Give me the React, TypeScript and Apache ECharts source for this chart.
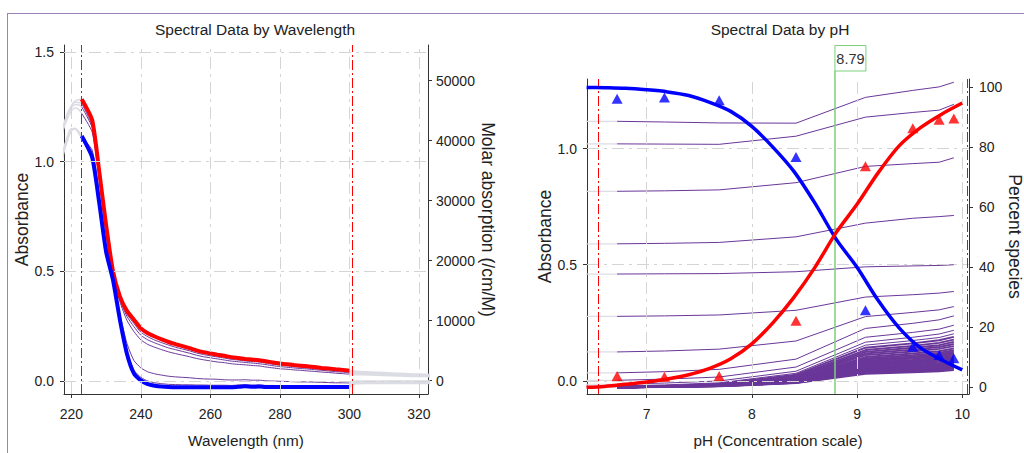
import React, { useEffect, useRef } from "react";
import * as echarts from "echarts";

// ---------------- data ----------------
const wavelengths = [223, 226, 228, 230, 232, 234, 236, 238, 240, 242, 244, 246, 248, 250, 252, 254, 256, 258, 260, 262, 264, 266, 268, 270, 272, 274, 276, 278, 280, 282, 284, 286, 288, 290, 292, 294, 296, 298, 300];
const measuredPH = [6.72, 7.17, 7.69, 8.42, 9.08, 9.53, 9.78, 9.92];

const absPH672 = [1.117, 1.02, 0.816, 0.59, 0.46, 0.278, 0.125, 0.035, 0.003, -0.014, -0.021, -0.025, -0.027, -0.028, -0.028, -0.028, -0.028, -0.028, -0.028, -0.028, -0.028, -0.028, -0.026, -0.024, -0.026, -0.025, -0.027, -0.027, -0.027, -0.027, -0.027, -0.027, -0.027, -0.027, -0.027, -0.027, -0.027, -0.027, -0.027];
const absPH717 = [1.114, 1.019, 0.818, 0.592, 0.461, 0.28, 0.129, 0.04, 0.008, -0.009, -0.017, -0.021, -0.023, -0.024, -0.024, -0.024, -0.025, -0.025, -0.025, -0.025, -0.025, -0.025, -0.023, -0.022, -0.024, -0.023, -0.025, -0.025, -0.025, -0.025, -0.025, -0.025, -0.025, -0.025, -0.025, -0.025, -0.025, -0.025, -0.026];
const absPH769 = [1.11, 1.018, 0.822, 0.596, 0.462, 0.284, 0.137, 0.05, 0.017, 0.0, -0.008, -0.012, -0.015, -0.016, -0.017, -0.017, -0.018, -0.018, -0.019, -0.019, -0.019, -0.02, -0.018, -0.017, -0.019, -0.018, -0.02, -0.02, -0.021, -0.021, -0.021, -0.021, -0.021, -0.022, -0.022, -0.022, -0.022, -0.022, -0.023];
const absPH842 = [1.109, 1.053, 0.853, 0.62, 0.47, 0.304, 0.172, 0.094, 0.06, 0.042, 0.033, 0.027, 0.022, 0.019, 0.017, 0.015, 0.012, 0.01, 0.009, 0.008, 0.006, 0.005, 0.005, 0.006, 0.004, 0.004, 0.001, 0.0, -0.001, -0.002, -0.003, -0.004, -0.004, -0.005, -0.006, -0.007, -0.008, -0.008, -0.009];
const absPH908 = [1.22, 1.135, 0.923, 0.679, 0.491, 0.361, 0.277, 0.226, 0.188, 0.167, 0.154, 0.143, 0.133, 0.125, 0.118, 0.111, 0.103, 0.097, 0.092, 0.087, 0.084, 0.079, 0.076, 0.074, 0.071, 0.069, 0.064, 0.06, 0.056, 0.054, 0.051, 0.049, 0.046, 0.044, 0.041, 0.039, 0.036, 0.034, 0.031];
const absPH953 = [1.25, 1.155, 0.935, 0.7, 0.495, 0.371, 0.295, 0.248, 0.209, 0.188, 0.174, 0.162, 0.151, 0.143, 0.135, 0.127, 0.118, 0.111, 0.106, 0.101, 0.096, 0.091, 0.088, 0.085, 0.082, 0.079, 0.075, 0.07, 0.066, 0.063, 0.06, 0.057, 0.055, 0.052, 0.049, 0.046, 0.043, 0.041, 0.037];
const absPH978 = [1.265, 1.165, 0.941, 0.707, 0.497, 0.378, 0.306, 0.263, 0.223, 0.202, 0.187, 0.175, 0.164, 0.154, 0.146, 0.138, 0.128, 0.121, 0.115, 0.11, 0.105, 0.099, 0.096, 0.092, 0.089, 0.087, 0.082, 0.077, 0.073, 0.07, 0.066, 0.063, 0.06, 0.058, 0.054, 0.051, 0.048, 0.046, 0.042];
const absPH992 = [1.285, 1.19, 0.96, 0.712, 0.5, 0.385, 0.32, 0.28, 0.24, 0.218, 0.203, 0.19, 0.178, 0.168, 0.159, 0.15, 0.14, 0.132, 0.126, 0.12, 0.115, 0.109, 0.105, 0.101, 0.098, 0.095, 0.09, 0.085, 0.08, 0.077, 0.073, 0.07, 0.067, 0.064, 0.06, 0.057, 0.054, 0.051, 0.047];
const spectra = [absPH672, absPH717, absPH769, absPH842, absPH908, absPH953, absPH978, absPH992];

// excluded (greyed) parts of the spectra outside the wavelength limits
const extLeftWL = [217, 218, 219, 220, 221, 222, 223];
const extLeft672 = [0.98, 1.05, 1.1, 1.14, 1.15, 1.14, 1.117];
const extLeft717 = [0.99, 1.06, 1.11, 1.145, 1.152, 1.138, 1.114];
const extLeft769 = [1.0, 1.065, 1.115, 1.145, 1.15, 1.135, 1.11];
const extLeft842 = [1.01, 1.07, 1.12, 1.15, 1.15, 1.132, 1.109];
const extLeft908 = [1.1, 1.16, 1.2, 1.23, 1.245, 1.24, 1.22];
const extLeft953 = [1.11, 1.17, 1.215, 1.245, 1.26, 1.26, 1.25];
const extLeft978 = [1.12, 1.175, 1.22, 1.25, 1.27, 1.27, 1.265];
const extLeft992 = [1.13, 1.18, 1.225, 1.255, 1.275, 1.282, 1.285];
const extLeft = [extLeft672, extLeft717, extLeft769, extLeft842, extLeft908, extLeft953, extLeft978, extLeft992];

const extRightWL = [300, 302, 306, 310, 314, 318, 322, 326];
const extRight672 = [-0.027, -0.012, -0.011, -0.011, -0.01, -0.01, -0.01, -0.01];
const extRight717 = [-0.026, -0.008, -0.008, -0.007, -0.007, -0.007, -0.007, -0.007];
const extRight769 = [-0.023, -0.004, -0.004, -0.003, -0.003, -0.003, -0.003, -0.003];
const extRight842 = [-0.009, 0.0, 0.0, 0.0, 0.0, 0.0, 0.0, 0.0];
const extRight908 = [0.031, 0.03, 0.028, 0.026, 0.024, 0.022, 0.021, 0.02];
const extRight953 = [0.037, 0.036, 0.034, 0.031, 0.028, 0.026, 0.024, 0.023];
const extRight978 = [0.042, 0.04, 0.038, 0.035, 0.032, 0.029, 0.027, 0.025];
const extRight992 = [0.047, 0.044, 0.041, 0.038, 0.035, 0.032, 0.03, 0.028];
const extRight = [extRight672, extRight717, extRight769, extRight842, extRight908, extRight953, extRight978, extRight992];

// excluded low-pH titration point (greyed)
const excludedPH = 6.3;
const excludedAbs = absPH672;

// species distribution
const curvePH = [6.43, 6.6, 6.8, 7.0, 7.2, 7.4, 7.6, 7.8, 8.0, 8.2, 8.4, 8.6, 8.8, 9.0, 9.2, 9.4, 9.6, 9.8, 10.0];
const acidFitPct = [100.0, 99.9, 99.7, 99.2, 98.5, 97.3, 95.0, 92.0, 87.0, 80.1, 72.0, 61.4, 49.5, 40.0, 29.0, 19.8, 13.2, 9.2, 5.8];
const baseFitPct = [0.0, 0.3, 1.0, 1.8, 2.8, 4.2, 6.3, 9.5, 14.5, 21.5, 30.0, 40.0, 51.5, 61.0, 71.5, 80.5, 86.5, 91.0, 94.8];
const acidObsPct = [96.2, 96.6, 95.7, 76.8, 25.7, 13.5, 10.8, 9.7];
const baseObsPct = [3.8, 3.5, 3.8, 22.2, 73.7, 86.4, 89.2, 89.6];

// axes
const wlRange = [217.9, 322.6];
const absRangeL = [-0.059, 1.532];
const molarRange = [-2215, 55913];
const phRange = [6.434, 10.064];
const absRangeR = [-0.056, 1.299];
const pctRange = [-2.23, 102.8];

const wlTicks = [220, 240, 260, 280, 300, 320];
const absTicksL = [0, 0.5, 1.0, 1.5];
const molarTicks = [0, 10000, 20000, 30000, 40000, 50000];
const phTicks = [7, 8, 9, 10];
const absTicksR = [0, 0.5, 1.0];
const pctTicks = [0, 20, 40, 60, 80, 100];

const wlLimits = [223, 300.9];
const phLimits = [6.54, 10.055];
const pKa = 8.79;

// ---------------- styles ----------------
const FONT = "'Liberation Sans', Arial, sans-serif";
const TEXT = "#222";
const AXIS = "#333";
const PURPLE = "#6a3799";
const GRAY = "#dcdce4";
const GREEN = "#7ccf7c";
const GRID_LINE = { color: "#d4d4d4", width: 1, type: [12, 5, 3, 5] };
const LIMIT_LINE = { color: "#ff0000", width: 1, type: [10, 3, 2, 3] };

function fmt(v: number, ticks: number[], digits: number) {
  for (const t of ticks) {
    if (Math.abs(v - t) < 1e-6 * Math.max(1, Math.abs(t))) return t.toFixed(digits);
  }
  return "";
}

function makeAxis(o: any) {
  return {
    type: "value",
    gridIndex: o.grid,
    position: o.position,
    min: o.range[0],
    max: o.range[1],
    splitNumber: o.split,
    name: o.name,
    nameLocation: "middle",
    nameGap: o.nameGap,
    nameRotate: o.nameRotate,
    nameTextStyle: { fontFamily: FONT, fontSize: o.nameSize, color: TEXT },
    axisLine: { show: true, onZero: false, lineStyle: { color: AXIS, width: 1 } },
    axisTick: { show: true, inside: false, length: 4, customValues: o.ticks, lineStyle: { color: AXIS, width: 1 } },
    axisLabel: {
      show: true,
      customValues: o.ticks,
      margin: o.margin,
      fontFamily: FONT,
      fontSize: 14,
      color: TEXT,
      formatter: (v: number) => fmt(v, o.ticks, o.digits),
    },
    splitLine: { show: false },
  };
}

function line(xi: number, yi: number, data: any[], color: string, width: number, z: number, smooth: any = 0.2) {
  return {
    type: "line",
    xAxisIndex: xi,
    yAxisIndex: yi,
    data,
    symbol: "none",
    showSymbol: false,
    smooth,
    lineStyle: { color, width },
    z,
    silent: true,
  };
}

function marker(xi: number, yi: number, data: any[], style: any, z: number) {
  return {
    type: "line",
    xAxisIndex: xi,
    yAxisIndex: yi,
    data: [],
    z,
    silent: true,
    markLine: {
      silent: true,
      symbol: ["none", "none"],
      label: { show: false },
      lineStyle: style,
      emphasis: { disabled: true },
      data,
    },
  };
}

function buildOption() {
  const series: any[] = [];
  // left chart
  series.push(marker(0, 0, [...wlTicks.map((v) => ({ xAxis: v })), ...absTicksL.map((v) => ({ yAxis: v }))], GRID_LINE, 1));
  spectra.forEach((_, j) => {
    series.push(line(0, 0, extLeftWL.map((w, k) => [w, extLeft[j][k]]), GRAY, 1.5, 2, 0.4));
    series.push(line(0, 0, extRightWL.map((w, k) => [w, extRight[j][k]]), GRAY, 1.8, 2, 0.3));
  });
  spectra.forEach((s, j) => {
    if (j === 0 || j === spectra.length - 1) return;
    series.push(line(0, 0, wavelengths.map((w, i) => [w, s[i]]), PURPLE, 1, 3));
  });
  series.push(line(0, 0, wavelengths.map((w, i) => [w, absPH992[i]]), "#ff0000", 4, 4));
  series.push(line(0, 0, wavelengths.map((w, i) => [w, absPH672[i]]), "#0000ff", 4, 4));
  series.push(marker(0, 0, wlLimits.map((v) => ({ xAxis: v })), LIMIT_LINE, 5));

  // right chart
  series.push(marker(1, 2, [...phTicks.map((v) => ({ xAxis: v })), ...absTicksR.map((v) => ({ yAxis: v }))], GRID_LINE, 1));
  wavelengths.forEach((w, i) => {
    const width = w >= 246 ? 1.9 : 1;
    series.push(line(1, 2, [[excludedPH, excludedAbs[i]], [measuredPH[0], spectra[0][i]]], GRAY, 1.2, 2, false));
    series.push(line(1, 2, measuredPH.map((p, j) => [p, spectra[j][i]]), PURPLE, width, 3, false));
  });
  series.push(marker(1, 2, phLimits.map((v) => ({ xAxis: v })), LIMIT_LINE, 4));
  series.push(marker(1, 2, [{ xAxis: pKa }], { color: GREEN, width: 1.5, type: "solid" }, 4));
  series.push(line(1, 3, curvePH.map((p, k) => [p, acidFitPct[k]]), "#0000ff", 3.5, 5, 0.3));
  series.push(line(1, 3, curvePH.map((p, k) => [p, baseFitPct[k]]), "#ff0000", 3.5, 5, 0.3));
  series.push({
    type: "scatter", xAxisIndex: 1, yAxisIndex: 3, symbol: "triangle", symbolSize: [11, 10], z: 6, silent: true,
    itemStyle: { color: "#0000ff" }, data: measuredPH.map((p, k) => [p, acidObsPct[k]]),
  });
  series.push({
    type: "scatter", xAxisIndex: 1, yAxisIndex: 3, symbol: "triangle", symbolSize: [11, 10], z: 6, silent: true,
    itemStyle: { color: "#ff0000" }, data: measuredPH.map((p, k) => [p, baseObsPct[k]]),
  });

  const titleStyle = { fontFamily: FONT, fontSize: 15.5, fontWeight: "normal", color: TEXT };
  return {
    animation: false,
    backgroundColor: "#ffffff",
    textStyle: { fontFamily: FONT },
    title: [
      { text: "Spectral Data by Wavelength", left: 255, top: 21, textAlign: "center", padding: 0, textStyle: titleStyle },
      { text: "Spectral Data by pH", left: 780, top: 21, textAlign: "center", padding: 0, textStyle: titleStyle },
    ],
    grid: [
      { left: 64, top: 45, width: 364, height: 349, containLabel: false, outerBoundsMode: "none" },
      { left: 587, top: 79, width: 382, height: 315, containLabel: false, outerBoundsMode: "none" },
    ],
    xAxis: [
      makeAxis({ grid: 0, position: "bottom", range: wlRange, split: 5, ticks: wlTicks, digits: 0, margin: 13, name: "Wavelength (nm)", nameGap: 39, nameSize: 15.3 }),
      makeAxis({ grid: 1, position: "bottom", range: phRange, split: 5, ticks: phTicks, digits: 0, margin: 13, name: "pH (Concentration scale)", nameGap: 39, nameSize: 15.3 }),
    ],
    yAxis: [
      makeAxis({ grid: 0, position: "left", range: absRangeL, split: 3, ticks: absTicksL, digits: 1, margin: 10, name: "Absorbance", nameGap: 27.5, nameSize: 17.5 }),
      makeAxis({ grid: 0, position: "right", range: molarRange, split: 5, ticks: molarTicks, digits: 0, margin: 8, name: "Molar absorption (/cm/M)", nameGap: 47.5, nameRotate: -90, nameSize: 17.5 }),
      makeAxis({ grid: 1, position: "left", range: absRangeR, split: 3, ticks: absTicksR, digits: 1, margin: 10, name: "Absorbance", nameGap: 27.5, nameSize: 17.5 }),
      makeAxis({ grid: 1, position: "right", range: pctRange, split: 5, ticks: pctTicks, digits: 0, margin: 10, name: "Percent species", nameGap: 29.5, nameRotate: -90, nameSize: 17.5 }),
    ],
    series,
  };
}

export default function App() {
  const ref = useRef<HTMLDivElement>(null);
  useEffect(() => {
    if (!ref.current) return;
    const chart = echarts.init(ref.current, null, { renderer: "svg" });
    chart.setOption(buildOption());
    const px = chart.convertToPixel({ xAxisIndex: 1 } as any, pKa) as number;
    const topY = chart.convertToPixel({ yAxisIndex: 2 } as any, absRangeR[1]) as number;
    chart.setOption({
      graphic: {
        elements: [
          { type: "line", id: "bTop", silent: true, shape: { x1: 7, y1: 13.5, x2: 1024, y2: 13.5 }, style: { stroke: "#9c82bb", lineWidth: 1 } },
          { type: "line", id: "bLeft", silent: true, shape: { x1: 7.5, y1: 13, x2: 7.5, y2: 453 }, style: { stroke: "#9c82bb", lineWidth: 1 } },
          { type: "line", id: "pkLink", silent: true, shape: { x1: px, y1: 71, x2: px, y2: topY }, style: { stroke: GREEN, lineWidth: 1.5 } },
          { type: "rect", id: "pkBox", silent: true, shape: { x: px, y: 45.5, width: 31, height: 25.5 }, style: { fill: "#ffffff", stroke: GREEN, lineWidth: 1 } },
          {
            type: "text", id: "pkText", silent: true,
            style: { text: pKa.toFixed(2), x: px + 15.5, y: 58.5, align: "center", verticalAlign: "middle", textAlign: "center", textVerticalAlign: "middle", fontFamily: FONT, fontSize: 14.5, fill: "#333" },
          },
        ],
      },
    });
    return () => chart.dispose();
  }, []);
  return <div ref={ref} style={{ position: "absolute", left: 0, top: 0, width: 1024, height: 453 }} />;
}
